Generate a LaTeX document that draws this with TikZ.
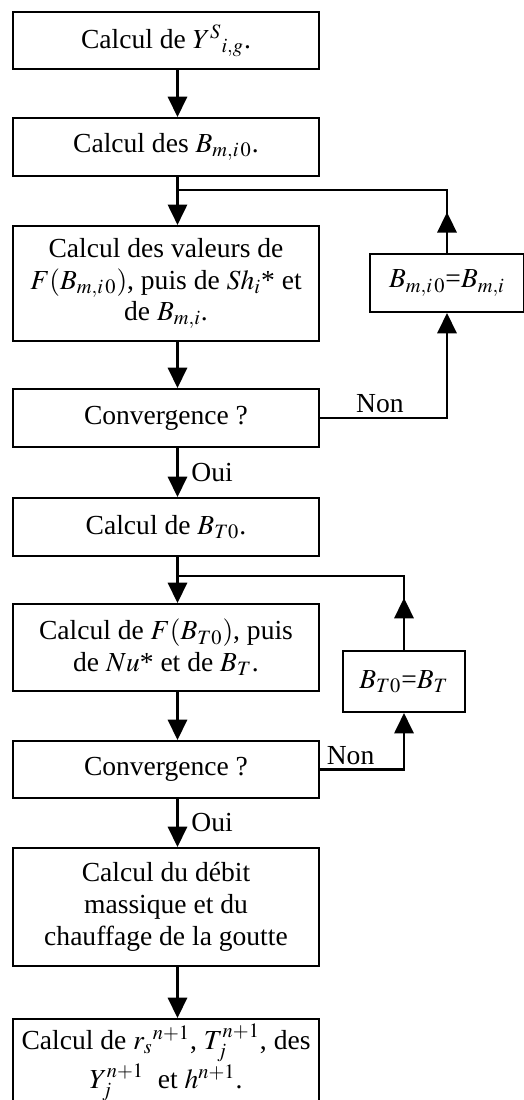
\documentclass[tikz,border=0pt]{standalone}
\usepackage{mathptmx}
\usepackage[no-math]{fontspec}
\setmainfont{Liberation Serif}
\usetikzlibrary{arrows.meta,decorations.markings}

\begin{document}
\begin{tikzpicture}[x=0.49pt,y=-0.49pt,line width=1pt,font=\fontsize{13.5}{15.5}\selectfont]
  \tikzstyle{B}=[draw,rectangle,minimum width=150.4pt,align=center,inner sep=2pt]
  \tikzstyle{A}=[-{Triangle[width=9.5pt,length=10pt]}]
  \tikzset{back/.style={decoration={markings,mark=at position #1 with {\arrow{Triangle[width=9.5pt,length=10pt]}}},postaction={decorate}}}
  \useasboundingbox (0,0) rectangle (524,1100);

  \node[B,minimum height=27.9pt] (S1) at (166,40.5) {Calcul de $Y^{S}{}_{i,g}$.};
  \node[B,minimum height=28.4pt] (S2) at (166,147) {Calcul des $B_{m,i\,0}$.};
  \node[B,minimum height=56.4pt] (S3) at (166,283.5) {Calcul des valeurs de\\ $F(B_{m,i\,0})$, puis de $Sh_i$* et\\ de $B_{m,i}$.};
  \node[B,minimum height=28.4pt] (S4) at (166,418) {Convergence ?};
  \node[B,minimum height=28.4pt] (S5) at (166,527) {Calcul de $B_{T0}$.};
  \node[B,minimum height=42.6pt] (S6) at (166,647.5) {Calcul de $F(B_{T0})$, puis\\ de $Nu$* et de $B_T$.};
  \node[B,minimum height=27.9pt] (S7) at (166,769.5) {Convergence ?};
  \node[B,minimum height=57.8pt] (S8) at (166,907) {Calcul du débit\\ massique et du\\ chauffage de la goutte};
  \node[B,minimum height=42.6pt] (S9) at (166,1062.5) {Calcul de $r_s{}^{n+1}$, $T_j^{n+1}$, des\\ $Y_j^{n+1}$\ \ et $h^{n+1}$.};

  \node[B,minimum width=75pt,minimum height=28.4pt] (U1) at (447,283) {$B_{m,i\,0}$=$B_{m,i}$};
  \node[B,minimum width=59.8pt,minimum height=29.9pt] (U2) at (404,681.5) {$B_{T0}$=$B_T$};

  \coordinate (J1) at (177.5,190);
  \coordinate (J2) at (177.5,576);

  \draw[A] (S1.south -| J1) -- (S2.north -| J1);
  \draw[A] (S2.south -| J1) -- (S3.north -| J1);
  \draw[A] (S3.south -| J1) -- (S4.north -| J1);
  \draw[A] (S4.south -| J1) -- node[right=3pt] {Oui} (S5.north -| J1);
  \draw[A] (S5.south -| J1) -- (S6.north -| J1);
  \draw[A] (S6.south -| J1) -- (S7.north -| J1);
  \draw[A] (S7.south -| J1) -- node[right=3pt] {Oui} (S8.north -| J1);
  \draw[A] (S8.south -| J1) -- (S9.north -| J1);

  \draw[A] (S4.east) -| node[pos=0.235,above,inner sep=2pt] {Non} (U1.south);
  \draw[back=20pt] (U1.north) |- (J1);
  \draw[A] (S7.east) -| node[pos=0.18,above,inner sep=2pt] {Non} (U2.south);
  \draw[back=25.5pt] (U2.north) |- (J2);
\end{tikzpicture}
\end{document}
